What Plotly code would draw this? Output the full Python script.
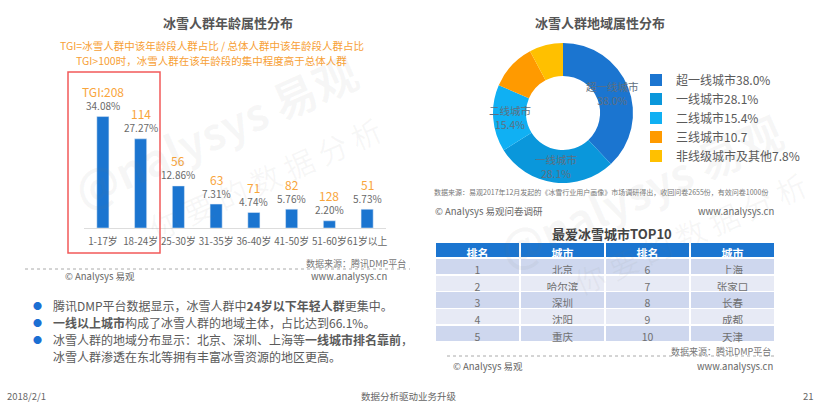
import math
import plotly.graph_objects as go

W, H = 821, 406
FONT = "Noto Sans CJK SC, Microsoft YaHei, sans-serif"

# ---- data ----
age_groups = ["1-17岁", "18-24岁", "25-30岁", "31-35岁", "36-40岁", "41-50岁", "51-60岁", "61岁以上"]
age_share = [34.08, 27.27, 12.86, 7.31, 4.74, 5.76, 2.20, 5.73]
age_tgi = [208, 114, 56, 63, 71, 82, 128, 51]

city_tiers = ["超一线城市", "一线城市", "二线城市", "三线城市", "非线级城市及其他"]
tier_share = [38.0, 28.1, 15.4, 10.7, 7.8]
tier_legend = ["超一线城市38.0%", "一线城市28.1%", "二线城市15.4%", "三线城市10.7", "非线级城市及其他7.8%"]
tier_colors = ["#1B75D0", "#0A97DB", "#10B0F3", "#FF9A00", "#FFC000"]

rank_left = [1, 2, 3, 4, 5]
city_left = ["北京", "哈尔滨", "深圳", "沈阳", "重庆"]
rank_right = [6, 7, 8, 9, 10]
city_right = ["上海", "张家口", "长春", "成都", "天津"]

def px(x):
    return x / W

def py(y):
    return 1 - y / H

fig = go.Figure()

# ---- bar chart ----
fig.add_trace(go.Bar(
    x=age_groups, y=age_share, marker_color="#1B75D0", width=0.32,
    xaxis="x", yaxis="y", showlegend=False, hoverinfo="x+y",
))

# ---- donut ----
PIE_X0, PIE_X1, PIE_Y0, PIE_Y1 = 493, 633, 43, 183
HOLE = 0.53
fig.add_trace(go.Pie(
    labels=tier_legend, values=tier_share, textinfo="none",
    marker=dict(colors=tier_colors, line=dict(width=0)),
    hole=HOLE, sort=False, direction="clockwise", rotation=0,
    domain=dict(x=[px(PIE_X0), px(PIE_X1)], y=[py(PIE_Y1), py(PIE_Y0)]),
    showlegend=True,
))

# ---- table ----
row_fill = ["#CED7EE", "#E7EAF5", "#CED7EE", "#E7EAF5", "#CED7EE"]
fig.add_trace(go.Table(
    domain=dict(x=[px(435), px(775)], y=[py(344), py(242)]),
    columnwidth=[1, 1, 1, 1],
    header=dict(values=["排名", "城市", "排名", "城市"],
                fill_color="#1B75D0", line=dict(color="white", width=1.5),
                font=dict(color="white", size=11, family=FONT, weight="bold"), align="center", height=16),
    cells=dict(values=[rank_left, city_left, rank_right, city_right],
               fill_color=[row_fill] * 4, line=dict(color="white", width=1.5),
               font=dict(color="#707070", size=10.5, family=FONT), align="center", height=16.8),
))

annotations = []
# bar labels
for cat, v, t in zip(age_groups, age_share, age_tgi):
    annotations.append(dict(x=cat, y=v, xref="x", yref="y", text=f"{v:.2f}%",
                            showarrow=False, yshift=11, font=dict(size=10, color="#6a6a6a", family=FONT)))
    lab = f"TGI:{t}" if cat == age_groups[0] else str(t)
    annotations.append(dict(x=cat, y=v, xref="x", yref="y", text=lab,
                            showarrow=False, yshift=25, font=dict(size=12, color="#F9A53B", family=FONT)))

# donut inside labels placed at each slice's mid-angle (derived from the values)
cx, cy = (PIE_X0 + PIE_X1) / 2, (PIE_Y0 + PIE_Y1) / 2
r_out = (PIE_X1 - PIE_X0) / 2
r_mid = r_out * (1 + HOLE) / 2
total = sum(tier_share)
cum = 0.0
for name, v in zip(city_tiers, tier_share):
    mid = (cum + v / 2) / total * 2 * math.pi
    cum += v
    if v < 12:
        continue
    lx = cx + r_mid * math.sin(mid)
    ly = cy - r_mid * math.cos(mid)
    annotations.append(dict(x=px(lx), y=py(ly), xref="paper", yref="paper",
                            xanchor="center", yanchor="middle",
                            text=f"{name}<br>{v:.1f}%", showarrow=False, align="center",
                            font=dict(size=10.5, color="#5f6f80", family=FONT)))

def txt(x, y, s, size=10, color="#666666", xanchor="left", bold=False, angle=0):
    if bold:
        s = f"<b>{s}</b>"
    annotations.append(dict(x=px(x), y=py(y), xref="paper", yref="paper", text=s, showarrow=False,
                            xanchor=xanchor, yanchor="middle", textangle=angle,
                            font=dict(size=size, color=color, family=FONT)))

# watermarks
wm = "rgba(120,120,120,0.06)"
txt(215, 130, "@nalysys 易观", 44, wm, "center", True, -24)
txt(265, 178, "你 要 的 数 据 分 析", 30, wm, "center", False, -24)
txt(640, 190, "@nalysys 易观", 44, wm, "center", True, -24)
txt(690, 233, "你 要 的 数 据 分 析", 30, wm, "center", False, -24)

# titles
txt(228, 23, "冰雪人群年龄属性分布", 13, "#555555", "center", True)
txt(600, 23, "冰雪人群地域属性分布", 13, "#555555", "center", True)
txt(212, 45, "TGI=冰雪人群中该年龄段人群占比 / 总体人群中该年龄段人群占比", 10.5, "#F7A035", "center")
txt(212, 60, "TGI>100时，冰雪人群在该年龄段的集中程度高于总体人群", 10.5, "#F7A035", "center")
txt(612, 233, "最爱冰雪城市TOP10", 13, "#444444", "center", True)

# sources
txt(408, 263, "数据来源：腾讯DMP平台", 9, "#777777", "right")
txt(63, 276, "© Analysys 易观", 9.5, "#666666", "left")
txt(389, 276, "www.analysys.cn", 9.5, "#666666", "right")
txt(432, 192, "数据来源：易观2017年12月发起的《冰雪行业用户画像》市场调研得出，收回问卷2655份，有效问卷1000份", 7, "#777777", "left")
txt(433, 211, "© Analysys 易观问卷调研", 9.5, "#666666", "left")
txt(776, 211, "www.analysys.cn", 9.5, "#666666", "right")
txt(773, 351, "数据来源：腾讯DMP平台", 9, "#777777", "right")
txt(451, 366, "© Analysys 易观", 9.5, "#666666", "left")
txt(775, 366, "www.analysys.cn", 9.5, "#666666", "right")

# bullets
bullets = [
    "腾讯DMP平台数据显示，冰雪人群中<b>24岁以下年轻人群</b>更集中。",
    "<b>一线以上城市</b>构成了冰雪人群的地域主体，占比达到66.1%。",
    "冰雪人群的地域分布显示：北京、深圳、上海等<b>一线城市排名靠前</b>，",
]
for i, b in enumerate(bullets):
    yy = 305 + 17 * i
    txt(37, yy, "●", 9, "#1B6FD3", "center")
    txt(51, yy, b, 12, "#5a5a5a", "left")
txt(51, 356, "冰雪人群渗透在东北等拥有丰富冰雪资源的地区更高。", 12, "#5a5a5a", "left")

# footer
txt(5, 396, "2018/2/1", 9.5, "#666666", "left")
txt(409, 396, "数据分析驱动业务升级", 9.5, "#666666", "center")
txt(816, 396, "21", 9.5, "#666666", "right")

shapes = [
    dict(type="rect", xref="paper", yref="paper", x0=px(68), x1=px(160), y0=py(253), y1=py(72),
         line=dict(color="#F25A5A", width=1.5)),
    dict(type="line", xref="paper", yref="paper", x0=px(25), x1=px(410), y0=py(269), y1=py(269),
         line=dict(color="#AAAAAA", width=1, dash="dot")),
    dict(type="line", xref="paper", yref="paper", x0=px(447), x1=px(775), y0=py(356), y1=py(356),
         line=dict(color="#AAAAAA", width=1, dash="dot")),
]

fig.update_layout(
    width=W, height=H, margin=dict(l=0, r=0, t=0, b=0),
    paper_bgcolor="white", plot_bgcolor="rgba(0,0,0,0)",
    font=dict(family=FONT, color="#666666"),
    xaxis=dict(domain=[px(84), px(386)], range=[-0.5, 7.5], showgrid=False, zeroline=False,
               showline=True, linecolor="#DDDDDD", linewidth=1, ticks="", tickangle=0,
               ticklabelstandoff=4,
               tickfont=dict(size=9.8, color="#666666", family=FONT), fixedrange=True),
    yaxis=dict(domain=[py(228), py(97.2)], range=[0, 40], visible=False, fixedrange=True),
    legend=dict(x=px(636), y=py(65.5), xanchor="left", yanchor="top",
                font=dict(size=12, color="#5a5a5a", family=FONT), bgcolor="rgba(0,0,0,0)",
                itemwidth=30, tracegroupgap=0),
    annotations=annotations, shapes=shapes,
)

fig.write_html("out.html", config={"displayModeBar": False},
               post_script="document.body.style.margin='0';document.body.style.overflow='hidden';")
